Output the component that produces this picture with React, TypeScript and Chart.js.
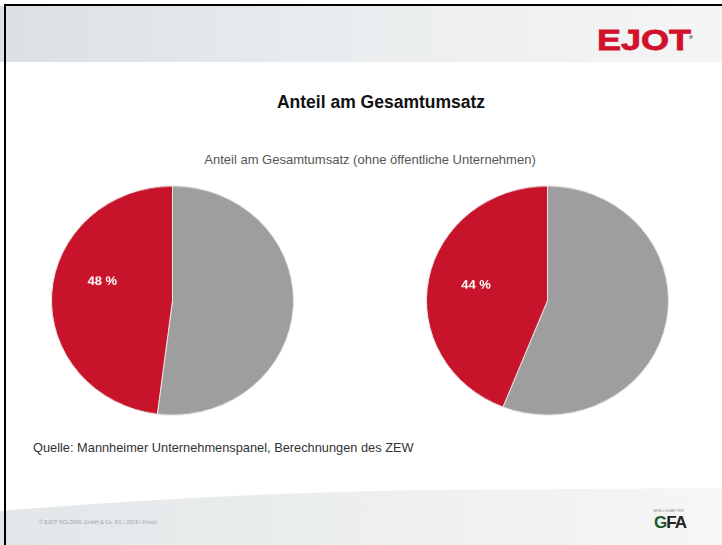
import React, { useEffect, useRef } from "react";
import { Chart, registerables } from "chart.js";

Chart.register(...registerables);

const sliceLabels = ["Übrige", "Anteil"];
const leftValues = [52, 48];
const rightValues = [56, 44];
const leftText = "48 %";
const rightText = "44 %";
const sliceColors = ["#9e9e9e", "#c8142b"];

const PIE = 243;
const SQUASH = 230 / 243;

function PieChart(props: { values: number[]; text: string; lx: number; ly: number; left: number; top: number }) {
  const ref = useRef<HTMLCanvasElement | null>(null);
  useEffect(() => {
    if (!ref.current) return;
    const labelPlugin = {
      id: "pctLabel",
      afterDatasetsDraw(chart: any) {
        const meta = chart.getDatasetMeta(0);
        const arc = meta.data[1];
        if (!arc) return;
        const { x, y, outerRadius } = arc.getProps(["x", "y", "outerRadius"], true);
        const ctx = chart.ctx;
        ctx.save();
        ctx.fillStyle = "#ffffff";
        ctx.font = "bold 13px 'Liberation Sans', Arial, sans-serif";
        ctx.textAlign = "center";
        ctx.textBaseline = "middle";
        ctx.fillText(props.text, x + outerRadius * props.lx, y + outerRadius * props.ly);
        ctx.restore();
      },
    };
    const chart = new Chart(ref.current, {
      type: "pie",
      data: {
        labels: sliceLabels,
        datasets: [
          {
            data: props.values,
            backgroundColor: sliceColors,
            borderColor: "#e6e6e6",
            borderWidth: 1,
          },
        ],
      },
      options: {
        animation: false,
        responsive: false,
        maintainAspectRatio: false,
        rotation: 0,
        plugins: {
          legend: { display: false },
          tooltip: { enabled: false },
          title: { display: false },
        },
        layout: { padding: 0 },
      },
      plugins: [labelPlugin],
    });
    return () => chart.destroy();
  }, []);
  return (
    <div
      style={{
        position: "absolute",
        left: props.left,
        top: props.top,
        width: PIE,
        height: PIE,
        transform: `scaleY(${SQUASH})`,
        transformOrigin: "center center",
      }}
    >
      <canvas ref={ref} width={PIE} height={PIE} style={{ width: PIE, height: PIE, display: "block" }} />
    </div>
  );
}

export default function App() {
  const cx1 = 172.5;
  const cx2 = 547;
  const cy = 300.5;
  return (
    <div
      style={{
        position: "absolute",
        left: 0,
        top: 0,
        width: 722,
        height: 545,
        background: "#ffffff",
        overflow: "hidden",
        fontFamily: "'Liberation Sans', Arial, sans-serif",
      }}
    >
      {/* header band */}
      <div
        style={{
          position: "absolute",
          left: 0,
          top: 6,
          width: 722,
          height: 56,
          background: "linear-gradient(90deg, #dce0e2 0%, #e9ecee 45%, #f5f5f5 100%)",
        }}
      />
      {/* borders */}
      <div style={{ position: "absolute", left: 4, top: 4, width: 718, height: 2, background: "#000" }} />
      {/* logo */}
      <div
        style={{
          position: "absolute",
          left: 597,
          top: 25,
          fontFamily: "'Liberation Sans', Arial, sans-serif",
          fontWeight: 900,
          fontSize: 30,
          letterSpacing: 0,
          color: "#d2122c",
          lineHeight: "30px",
          transform: "scaleX(1.2)",
          transformOrigin: "left",
          WebkitTextStroke: "0.8px #d2122c",
        }}
      >
        EJOT
      </div>
      <div style={{ position: "absolute", left: 689, top: 35, width: 4, height: 4, borderRadius: 2, background: "#9aa0a5" }} />
      {/* footer */}
      <svg style={{ position: "absolute", left: 0, top: 480 }} width={722} height={65}>
        <defs>
          <linearGradient id="fg" x1="0" y1="0" x2="1" y2="0">
            <stop offset="0" stopColor="#e3e6e8" />
            <stop offset="0.6" stopColor="#eef0f1" />
            <stop offset="1" stopColor="#f6f6f6" />
          </linearGradient>
        </defs>
        <path d="M0 31 Q 200 14 420 10 L 722 8 L 722 65 L 0 65 Z" fill="url(#fg)" />
      </svg>
      <div style={{ position: "absolute", left: 4, top: 4, width: 2, height: 541, background: "#000" }} />
      <div
        style={{
          position: "absolute",
          left: 39,
          top: 519,
          fontSize: 5,
          color: "#9aa0a4",
          whiteSpace: "nowrap",
          letterSpacing: 0.1,
        }}
      >
        © EJOT HOLDING GmbH &amp; Co. KG / 2019 / Kirsch
      </div>
      <div style={{ position: "absolute", left: 653, top: 509, fontSize: 3, color: "#888", whiteSpace: "nowrap" }}>
        GESELLSCHAFT FÜR
      </div>
      <div
        style={{
          position: "absolute",
          left: 654,
          top: 514,
          fontSize: 17,
          fontWeight: 900,
          lineHeight: "18px",
          color: "#222",
          letterSpacing: -1,
          whiteSpace: "nowrap",
        }}
      >
        <span style={{ color: "#1f5a2e" }}>G</span>FA
      </div>
      {/* title */}
      <div
        style={{
          position: "absolute",
          left: 0,
          width: 762,
          top: 92,
          textAlign: "center",
          fontSize: 17.5,
          fontWeight: "bold",
          color: "#111",
        }}
      >
        Anteil am Gesamtumsatz
      </div>
      <div
        style={{
          position: "absolute",
          left: 0,
          width: 740,
          top: 152,
          textAlign: "center",
          fontSize: 13,
          fontFamily: "'Liberation Sans Narrow', 'Liberation Sans', Arial, sans-serif",
          color: "#555",
        }}
      >
        Anteil am Gesamtumsatz (ohne öffentliche Unternehmen)
      </div>
      <PieChart values={leftValues} text={leftText} lx={-0.58} ly={-0.17} left={cx1 - PIE / 2} top={cy - PIE / 2} />
      <PieChart values={rightValues} text={rightText} lx={-0.59} ly={-0.13} left={cx2 - PIE / 2} top={cy - PIE / 2} />
      <div
        style={{
          position: "absolute",
          left: 33,
          top: 440,
          fontSize: 12.8,
          fontFamily: "'Liberation Sans Narrow', 'Liberation Sans', Arial, sans-serif",
          color: "#333",
          whiteSpace: "nowrap",
        }}
      >
        Quelle: Mannheimer Unternehmenspanel, Berechnungen des ZEW
      </div>
    </div>
  );
}
